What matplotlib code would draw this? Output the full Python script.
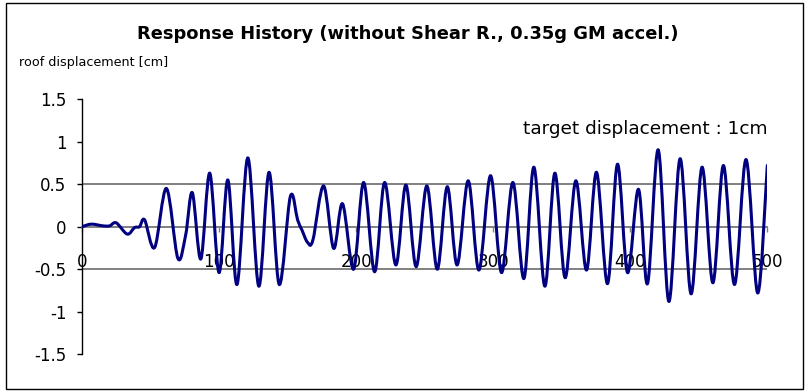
import numpy as np
import matplotlib
matplotlib.use("Agg")
import matplotlib.pyplot as plt
from matplotlib.path import Path
from matplotlib.patches import PathPatch, Rectangle

# roof displacement response (turning points of the curve)
time_pts = [0, 6.8, 15.3, 20.2, 25, 33, 38.4, 42, 45.7, 53, 61.6, 69.9, 75.6,
            80.5, 86.7, 93.2, 100, 106.4, 113.1, 121, 129, 136.5, 143.9, 152,
            157.3, 160.5, 164.6, 168.5, 176.3, 183.6, 190.1, 198.2, 205.5,
            213.5, 220.8, 229, 236.3, 243.8, 251.6, 259.2, 266.5, 273.7,
            281.8, 289.6, 298.1, 306.1, 314.4, 322.4, 329.7, 337.7, 345,
            352.5, 360.3, 368.1, 375.4, 383.4, 390.7, 398, 406, 412.6, 420.4,
            428.2, 436.4, 444.4, 452.4, 460.3, 468, 476.1, 484.5, 493, 500]
displacement = [0, 0.03, 0.01, 0.01, 0.045, -0.087, -0.01, 0.0, 0.08, -0.245,
                0.45, -0.37, -0.1, 0.40, -0.38, 0.63, -0.54, 0.55, -0.68, 0.81,
                -0.70, 0.64, -0.68, 0.355, 0.08, -0.04, -0.185, -0.155, 0.48,
                -0.255, 0.27, -0.50, 0.52, -0.53, 0.52, -0.45, 0.49, -0.47,
                0.48, -0.50, 0.47, -0.45, 0.54, -0.51, 0.60, -0.54, 0.52,
                -0.61, 0.70, -0.70, 0.63, -0.60, 0.54, -0.51, 0.64, -0.67,
                0.735, -0.54, 0.44, -0.67, 0.905, -0.88, 0.80, -0.79, 0.70,
                -0.66, 0.72, -0.68, 0.79, -0.78, 0.72]

x_ticks = [0, 100, 200, 300, 400, 500]
x_tick_labels = ["0", "100", "200", "300", "400", "500"]
y_ticks = [-1.5, -1, -0.5, 0, 0.5, 1, 1.5]
y_tick_labels = ["-1.5", "-1", "-0.5", "0", "0.5", "1", "1.5"]
grid_levels = [-0.5, 0.5]

W, H = 807, 392


def fx(x):
    return x / W


def fy(y):
    return 1 - y / H


def smooth_path(xs, ys):
    # Excel-style smoothed line: Catmull-Rom segments as cubic Beziers
    p = np.column_stack([xs, ys]).astype(float)
    n = len(p)
    verts = [p[0]]
    codes = [Path.MOVETO]
    for i in range(n - 1):
        p0 = p[max(i - 1, 0)]
        p1, p2 = p[i], p[i + 1]
        p3 = p[min(i + 2, n - 1)]
        verts += [p1 + (p2 - p0) / 6, p2 - (p3 - p1) / 6, p2]
        codes += [Path.CURVE4] * 3
    return Path(verts, codes)


fig = plt.figure(figsize=(W / 100, H / 100), dpi=100)
ax = fig.add_axes([fx(82), fy(354.2), fx(767.3) - fx(82), fy(99.2) - fy(354.2)])

assert len(time_pts) == len(displacement)
ax.hlines(grid_levels, x_ticks[0], x_ticks[-1], colors="#808080", linewidth=1.4, zorder=1)
ax.add_patch(PathPatch(smooth_path(time_pts, displacement), fill=False,
                       edgecolor="#000080", linewidth=2.2, zorder=3,
                       capstyle="round", joinstyle="round"))

ax.set_xlim(0, 500)
ax.set_ylim(-1.5, 1.5)
for s in ("top", "right"):
    ax.spines[s].set_visible(False)
ax.spines["bottom"].set_position(("data", 0))
ax.spines["bottom"].set_color("#808080")
ax.spines["bottom"].set_linewidth(1.4)
ax.spines["bottom"].set_zorder(2)
ax.spines["left"].set_color("black")
ax.spines["left"].set_linewidth(1.0)

ax.set_xticks(x_ticks)
ax.set_xticklabels(x_tick_labels)
ax.set_yticks(y_ticks)
ax.set_yticklabels(y_tick_labels)
ax.tick_params(axis="x", direction="out", length=3.6, width=1, color="#808080",
               labelsize=12, pad=15, labelcolor="black")
ax.tick_params(axis="y", direction="out", length=3.6, width=1, color="black",
               labelsize=12, pad=7.5)

fig.text(fx(408), fy(39.3), "Response History (without Shear R., 0.35g GM accel.)",
         ha="center", va="baseline", fontsize=12.9, fontweight="bold")
fig.text(fx(19.3), fy(66), "roof displacement [cm]", ha="left", va="baseline",
         fontsize=9.2)
fig.text(fx(768), fy(133.5), "target displacement : 1cm", ha="right",
         va="baseline", fontsize=13.3)

fig.add_artist(Rectangle((fx(5.5), fy(389)), fx(803) - fx(5.5), fy(2.5) - fy(389),
                         fill=False, edgecolor="black", linewidth=1.0,
                         transform=fig.transFigure))

fig.savefig("out.png", dpi=100)
